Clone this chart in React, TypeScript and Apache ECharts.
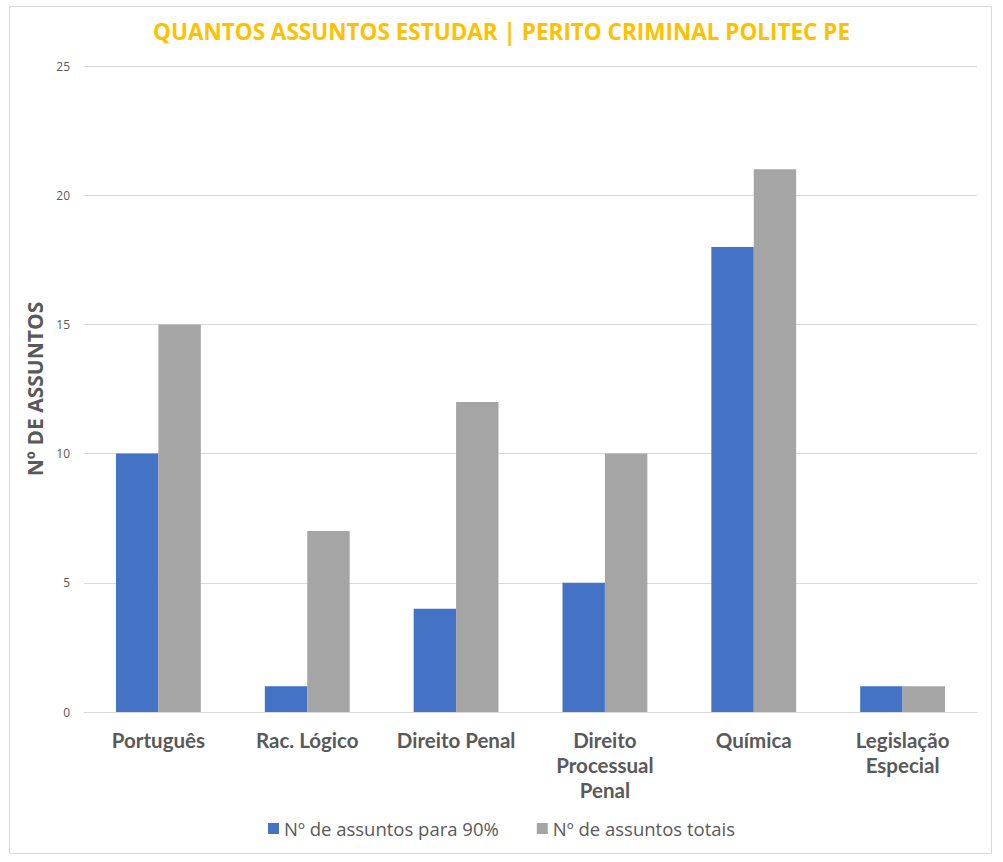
import React, { useEffect, useRef } from "react";
import * as echarts from "echarts";

const categories = [
  "Português",
  "Rac. Lógico",
  "Direito Penal",
  "Direito\nProcessual\nPenal",
  "Química",
  "Legislação\nEspecial",
];
const seriesNames = ["Nº de assuntos para 90%", "Nº de assuntos totais"];
const para90 = [10, 1, 4, 5, 18, 1];
const totais = [15, 7, 12, 10, 21, 1];
const yTicks = { min: 0, max: 25, interval: 5 };

export default function App() {
  const ref = useRef<HTMLDivElement>(null);
  useEffect(() => {
    document.body.style.margin = "0";
    const chart = echarts.init(ref.current!, null, { renderer: "svg" });
    chart.setOption({
      animation: false,
      backgroundColor: "#ffffff",
      title: {
        text: "QUANTOS ASSUNTOS ESTUDAR | PERITO CRIMINAL POLITEC PE",
        left: "center",
        top: 15,
        textStyle: {
          color: "#FFC000",
          fontFamily: "Open Sans",
          fontWeight: "bold",
          fontSize: 22.5,
        },
      },
      graphic: [
        {
          type: "rect",
          shape: { x: 9.5, y: 6.5, width: 982, height: 847 },
          style: { fill: "none", stroke: "#d9d9d9", lineWidth: 1 },
          silent: true,
        },
      ],
      legend: {
        data: seriesNames,
        top: 814,
        left: "center",
        itemWidth: 11,
        itemHeight: 11,
        itemGap: 38,
        icon: "rect",
        textStyle: { color: "#595959", fontFamily: "Open Sans", fontSize: 18.5 },
      },
      grid: { left: 84, right: 26, top: 66, bottom: 150, containLabel: false },
      xAxis: {
        type: "category",
        data: categories,
        axisLine: { lineStyle: { color: "#d9d9d9" } },
        axisTick: { show: false },
        axisLabel: {
          interval: 0,
          margin: 15,
          color: "#595959",
          fontFamily: "Lato",
          fontWeight: "bold",
          fontSize: 20.5,
          lineHeight: 25,
        },
      },
      yAxis: {
        type: "value",
        min: yTicks.min,
        max: yTicks.max,
        interval: yTicks.interval,
        name: "Nº DE ASSUNTOS",
        nameLocation: "middle",
        nameGap: 36,
        nameRotate: 90,
        nameTextStyle: {
          color: "#595959",
          fontFamily: "Open Sans",
          fontWeight: "bold",
          fontSize: 21,
        },
        axisLine: { show: false },
        axisTick: { show: false },
        axisLabel: { color: "#595959", fontFamily: "Open Sans", fontSize: 12, margin: 14 },
        splitLine: { lineStyle: { color: "#d9d9d9" } },
      },
      series: [
        {
          name: seriesNames[0],
          type: "bar",
          data: para90,
          itemStyle: { color: "#4472C4" },
          barGap: "0%",
          barCategoryGap: "43%",
        },
        {
          name: seriesNames[1],
          type: "bar",
          data: totais,
          itemStyle: { color: "#A5A5A5" },
          barGap: "0%",
          barCategoryGap: "43%",
        },
      ],
    });
    return () => chart.dispose();
  }, []);
  return <div ref={ref} style={{ width: 1003, height: 862 }} />;
}
